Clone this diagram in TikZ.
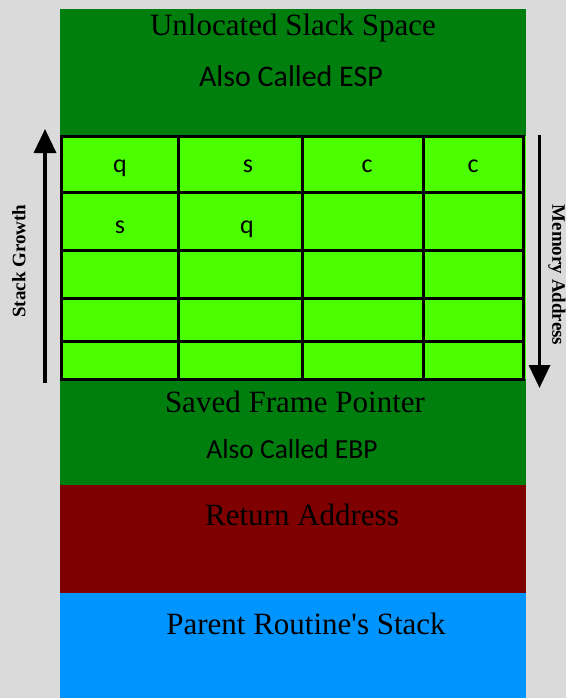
\documentclass[tikz,border=0pt]{standalone}
\usepackage{fontspec}
\setmainfont{Liberation Serif}[Ligatures=TeXOff]
\newfontfamily\calibri{Carlito}
\usetikzlibrary{arrows.meta,positioning}
\definecolor{pagebg}{HTML}{DADADA}
\definecolor{darkgrn}{HTML}{007F0E}
\definecolor{limegrn}{HTML}{4CFF00}
\definecolor{darkred}{HTML}{7F0000}
\definecolor{skyblue}{HTML}{0094FF}

\begin{document}
\begin{tikzpicture}[x=1pt, y=-1pt,
    band/.style={rectangle, inner sep=0pt, outer sep=0pt, minimum width=466pt, anchor=north west},
    title/.style={anchor=base, font=\fontsize{31}{31}\selectfont},
    sub/.style={anchor=base, font=\calibri\fontsize{30}{30}\selectfont},
    cellmark/.style={anchor=base, font=\calibri\fontsize{26}{26}\selectfont},
    side/.style={font=\bfseries\fontsize{19}{19}\selectfont},
    arrow/.style={-{Triangle[width=22pt,length=24pt]}, line width=3.5pt}
  ]
    \fill[pagebg] (0,0) rectangle (566,698);
    \useasboundingbox (0,0) rectangle (566,698);

    % memory bands
    \node[band, fill=darkgrn, minimum height=127pt] (esp) at (60,9) {};
    \node[band, fill=limegrn, minimum height=243pt] (grid) at (60,136) {};
    \node[band, fill=darkgrn, minimum height=106pt] (ebp) at (60,379) {};
    \node[band, fill=darkred, minimum height=108pt] (ret) at (60,485) {};
    \node[band, fill=skyblue, minimum height=110pt] (parent) at (60,593) {};

    % the grid of cells
    \draw[line width=3pt] (61,136) rectangle (523,379);
    \foreach \x in {178,302,423}
      \draw[line width=3pt] (\x,136) -- (\x,379);
    \foreach \y in {192,250,298,341}
      \draw[line width=3pt] (61,\y) -- (523,\y);

    \node[cellmark] (q1) at (120,172) {q};
    \node[cellmark] (s1) at (248,172) {s};
    \node[cellmark] (c1) at (367,172) {c};
    \node[cellmark] (c2) at (473,172) {c};
    \node[cellmark] (s2) at (120,233) {s};
    \node[cellmark] (q2) at (247,233) {q};

    % band labels
    \node[title] (slack) at (293,36) {Unlocated Slack Space};
    \node[sub] (espname) at (291,87) {Also Called ESP};
    \node[title] (sfp) at (295,412) {Saved Frame Pointer};
    \node[sub, font=\calibri\fontsize{27.5}{27.5}\selectfont] (ebpname) at (292,458) {Also Called EBP};
    \node[title] (retaddr) at (302,525) {Return Address};
    \node[title] (stack) at (306,634) {Parent Routine's Stack};

    % side arrows
    \coordinate (growlow) at (45,383);
    \coordinate (growtop) at (45,129);
    \coordinate (addrtop) at (539.5,135);
    \coordinate (addrlow) at (539.5,388);
    \draw[arrow] (growlow) -- (growtop);
    \draw[arrow, -{Triangle[width=21pt,length=23pt]}] (addrtop) -- (addrlow);
    \node[side, rotate=90] (growth) at (19,261) {Stack Growth};
    \node[side, rotate=-90, inner sep=1pt] (memaddr) at (557,275) {Memory Address};
\end{tikzpicture}
\end{document}
